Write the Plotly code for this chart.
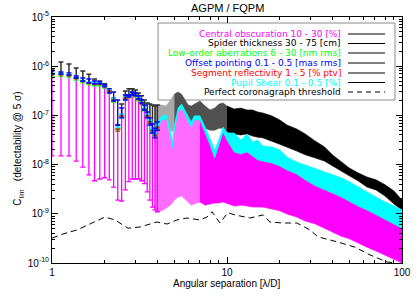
import plotly.graph_objects as go

# ---------------- data ----------------
# individual error bars (x <= 4, step 0.125 lambda/D)
bar_x = [1, 1.125, 1.25, 1.375, 1.5, 1.625, 1.75, 1.875, 2, 2.125, 2.25, 2.375, 2.5,
         2.625, 2.75, 2.875, 3, 3.125, 3.25, 3.375, 3.5, 3.625, 3.75, 3.875, 4]
nominal = [6.9e-7, 6.9e-7, 6.6e-7, 5.75e-7, 5.0e-7, 4.6e-7, 4.4e-7, 4.4e-7, 4.0e-7, 3.15e-7,
           2.06e-7, 5.3e-8, 9.8e-8, 2.26e-7, 2.5e-7, 2.7e-7, 2.6e-7, 2.15e-7, 1.79e-7, 1.35e-7,
           9.8e-8, 7.4e-8, 5.0e-8, 4.0e-8, 5.8e-8]
obsc_low = [1.5e-8, 1.5e-8, 1.5e-8, 1.18e-8, 8.9e-9, 6.2e-9, 4.7e-9, 5.1e-9, 5.4e-9, 4.9e-9,
            3.5e-9, 1.9e-9, 1.82e-9, 3.05e-9, 4.5e-9, 5.1e-9, 5.1e-9, 5.1e-9, 4.7e-9, 4.1e-9,
            2.8e-9, 1.9e-9, 1.37e-9, 1.2e-9, 1.1e-9]
spider_high = [8.4e-7, 1.22e-6, 1.11e-6, 9.2e-7, 8.0e-7, 6.9e-7, 5.5e-7, 5.0e-7, 4.4e-7, 3.3e-7,
               2.26e-7, 6.4e-8, 1.7e-7, 3.15e-7, 3.5e-7, 3.5e-7, 3.3e-7, 2.85e-7, 2.5e-7, 2.06e-7,
               1.79e-7, 1.7e-7, 1.63e-7, 1.55e-7, 1.63e-7]
offset_high = [8.0e-7, 7.6e-7, 7.3e-7, 6.3e-7, 5.75e-7, 5.5e-7, 5.0e-7, 4.8e-7, 4.2e-7, 3.5e-7,
               3.0e-7, 2.06e-7, 1.41e-7, 2.6e-7, 2.6e-7, 3.0e-7, 2.85e-7, 2.5e-7, 2.06e-7, 1.63e-7,
               1.17e-7, 8.9e-8, 6.7e-8, 5.5e-8, 7.4e-8]
offset_low = [6.9e-7, 6.9e-7, 6.6e-7, 5.75e-7, 5.0e-7, 4.6e-7, 4.4e-7, 4.4e-7, 3.8e-7, 2.85e-7,
              1.96e-7, 6.4e-8, 8.9e-8, 2.06e-7, 2.37e-7, 2.6e-7, 2.5e-7, 2.15e-7, 1.79e-7, 1.29e-7,
              8.9e-8, 6.4e-8, 4.4e-8, 3.5e-8, 5.0e-8]
shear_high = [7.3e-7, 7.3e-7, 6.9e-7, 6.0e-7, 5.2e-7, 4.8e-7, 4.6e-7, 4.6e-7, 4.2e-7, 3.3e-7,
              2.26e-7, 5.8e-8, 1.07e-7, 2.37e-7, 2.6e-7, 2.85e-7, 2.7e-7, 2.26e-7, 1.87e-7, 1.41e-7,
              1.07e-7, 8.1e-8, 5.5e-8, 4.4e-8, 6.4e-8]
loworder_low = [6.3e-7, 6.3e-7, 6.0e-7, 5.2e-7, 4.6e-7, 4.2e-7, 4.0e-7, 4.0e-7, 3.6e-7, 2.85e-7,
                1.87e-7, 4.8e-8, 8.9e-8, 2.06e-7, 2.26e-7, 2.5e-7, 2.37e-7, 1.96e-7, 1.63e-7, 1.23e-7,
                8.9e-8, 6.7e-8, 4.6e-8, 3.6e-8, 5.3e-8]
segment_low = [6.6e-7, 6.6e-7, 6.3e-7, 5.5e-7, 4.8e-7, 4.4e-7, 4.2e-7, 4.2e-7, 3.8e-7, 3.0e-7,
               1.96e-7, 4.8e-8, 9.3e-8, 2.15e-7, 2.37e-7, 2.6e-7, 2.5e-7, 2.06e-7, 1.7e-7, 1.29e-7,
               9.3e-8, 7.0e-8, 4.8e-8, 3.8e-8, 5.5e-8]

# dense part (x >= 3.875): envelopes of the error bars
band_x = [3.875, 4, 4.25, 4.5, 4.75, 4.875, 5, 5.25, 5.5, 5.75, 6, 6.25, 6.5, 7, 7.5, 8, 8.5, 9,
          9.5, 10, 11, 12, 13, 14, 15, 16, 18, 20, 22, 25, 28, 32, 36, 40, 45, 50, 56, 63, 71,
          80, 90, 100]
band_nominal = [4.0e-8, 5.8e-8, 8.1e-8, 8.5e-8, 4.0e-8, 2.2e-8, 5.0e-8, 1.17e-7, 1.41e-7, 1.07e-7,
                7.4e-8, 5.8e-8, 8.1e-8, 8.1e-8, 4.6e-8, 2.5e-8, 1.36e-8, 2.5e-8, 4.6e-8, 3.16e-8,
                1.8e-8, 1.64e-8, 1.8e-8, 1.5e-8, 1.24e-8, 1.18e-8, 1.08e-8, 9.4e-9, 7.8e-9, 6.45e-9,
                4.9e-9, 3.7e-9, 3.05e-9, 2.65e-9, 2.2e-9, 1.82e-9, 1.44e-9, 1.2e-9, 9.9e-10, 7.8e-10,
                6.2e-10, 5.1e-10]
band_shear_high = [4.8e-8, 7.0e-8, 9.8e-8, 1.02e-7, 5.0e-8, 2.9e-8, 6.4e-8, 1.41e-7, 1.7e-7, 1.29e-7,
                   9.3e-8, 7.4e-8, 9.8e-8, 9.8e-8, 5.8e-8, 3.3e-8, 2.0e-8, 3.3e-8, 5.8e-8, 4.4e-8,
                   4.4e-8, 3.16e-8, 4.2e-8, 2.9e-8, 3.16e-8, 2.4e-8, 2.3e-8, 2.0e-8, 1.43e-8, 1.13e-8,
                   9.8e-9, 8.5e-9, 7.1e-9, 6.2e-9, 5.4e-9, 4.5e-9, 3.5e-9, 2.8e-9, 2.2e-9, 1.74e-9,
                   1.44e-9, 1.2e-9]
band_obsc_low = [1.2e-9, 1.1e-9, 1.15e-9, 1.31e-9, 1.5e-9, 1.66e-9, 1.9e-9, 2.2e-9, 2.3e-9, 2.0e-9,
                 1.74e-9, 1.5e-9, 1.58e-9, 1.74e-9, 1.5e-9, 1.58e-9, 1.66e-9, 1.66e-9, 1.74e-9, 1.66e-9,
                 1.44e-9, 1.5e-9, 1.44e-9, 1.37e-9, 1.37e-9, 1.37e-9, 1.25e-9, 1.15e-9, 9.9e-10, 8.6e-10,
                 7.1e-10, 6.2e-10, 5.1e-10, 4.3e-10, 3.5e-10, 3.1e-10, 2.6e-10, 2.1e-10, 1.75e-10, 1.46e-10,
                 1.2e-10, 1.0e-10]
band_spider_high = [1.55e-7, 1.63e-7, 1.63e-7, 1.55e-7, 2.06e-7, 2.37e-7, 2.7e-7, 3.0e-7, 2.7e-7, 2.06e-7,
                    1.63e-7, 1.55e-7, 1.7e-7, 1.96e-7, 1.55e-7, 1.29e-7, 1.41e-7, 1.7e-7, 1.79e-7, 1.55e-7,
                    1.35e-7, 1.41e-7, 1.29e-7, 1.29e-7, 1.17e-7, 1.12e-7, 9.8e-8, 8.1e-8, 6.4e-8, 5.3e-8,
                    4.2e-8, 3.0e-8, 2.3e-8, 1.58e-8, 1.13e-8, 8.5e-9, 6.8e-9, 5.6e-9, 4.9e-9, 3.9e-9,
                    2.9e-9, 1.9e-9]
band_spider_low = [4.6e-8, 5.8e-8, 8.1e-8, 8.5e-8, 5.0e-8, 4.6e-8, 5.5e-8, 1.17e-7, 1.41e-7, 1.07e-7,
                   7.4e-8, 6.1e-8, 8.1e-8, 8.1e-8, 5.5e-8, 5.0e-8, 5.0e-8, 5.5e-8, 5.5e-8, 4.6e-8,
                   4.2e-8, 4.0e-8, 4.2e-8, 3.8e-8, 3.6e-8, 3.5e-8, 3.0e-8, 2.6e-8, 2.3e-8, 1.89e-8,
                   1.58e-8, 1.36e-8, 1.18e-8, 9.4e-9, 7.4e-9, 5.9e-9, 4.7e-9, 3.5e-9, 3.05e-9, 2.3e-9,
                   1.58e-9, 1.2e-9]

# perfect coronagraph threshold
thr_x = [1.0, 1.156, 1.39, 1.65, 2.01, 2.29, 2.72, 3.18, 3.98, 4.54, 5.18, 5.91, 7.01, 7.69, 8.21,
         9.12, 10.1, 11.1, 13.5, 16.1, 17.6, 20.9, 25.1, 29.8, 33.1, 42.5, 53.9, 65.6, 82.1, 91.2, 100]
thr_y = [3.2e-10, 3.9e-10, 4.7e-10, 6.2e-10, 8.6e-10, 7.5e-10, 5.1e-10, 5.4e-10, 6.8e-10, 6.2e-10,
         7.5e-10, 8.2e-10, 7.5e-10, 8.6e-10, 1.1e-9, 6.5e-10, 1.05e-9, 9.5e-10, 8.2e-10, 9.5e-10,
         6.8e-10, 6.5e-10, 6.5e-10, 4.7e-10, 3.4e-10, 2.7e-10, 2.1e-10, 1.46e-10, 1.05e-10, 1.0e-10,
         9.1e-11]

legend_labels = ["Central obscuration 10 - 30 [%]", "Spider thickness 30 - 75 [cm]",
                 "Low-order aberrations 6 - 30 [nm rms]", "Offset pointing 0.1 - 0.5 [mas rms]",
                 "Segment reflectivity 1 - 5 [% ptv]", "Pupil Shear 0.1 - 0.5 [%]",
                 "Perfect coronagraph threshold"]
legend_colors = ["#ff00ff", "#000000", "#00ff00", "#0000ff", "#ff0000", "#00ffff", "#000000"]

MAG, BLK, GRN, BLU, RED, CYN = legend_colors[:6]

fig = go.Figure()


def band(lo, hi, color, i0, i1):
    xs = band_x[i0:i1]
    fig.add_trace(go.Scatter(
        x=xs + xs[::-1], y=hi[i0:i1] + lo[i0:i1][::-1],
        mode="lines", fill="toself", fillcolor=color,
        line=dict(width=0.6, color=color), hoverinfo="skip"))


def bars(lo, hi, color, thick=1.0, capw=2.5):
    fig.add_trace(go.Scatter(
        x=bar_x, y=lo, mode="markers",
        marker=dict(size=2, color="rgba(0,0,0,0)"),
        error_y=dict(type="data", symmetric=False,
                     array=[h - l for h, l in zip(hi, lo)],
                     arrayminus=[0] * len(lo),
                     color=color, thickness=thick, width=capw),
        hoverinfo="skip"))


# dense region bands
band(band_spider_low, band_spider_high, "#a8a8a8", 0, 7)
band(band_spider_low, band_spider_high, "#505050", 6, 20)
band(band_spider_low, band_spider_high, BLK, 19, 42)
band(band_obsc_low, band_nominal, "#ff6cff", 0, 14)
band(band_obsc_low, band_nominal, MAG, 13, 42)
band(band_nominal, band_shear_high, CYN, 0, 42)

# individual bars
bars(obsc_low, nominal, MAG, 1.3, 2.5)
bars(nominal, spider_high, "#303030", 1.5, 2.5)
bars(nominal, shear_high, CYN, 1.5, 2.5)
bars(loworder_low, nominal, GRN, 1.2, 2.5)
bars(segment_low, nominal, RED, 1.0, 2.0)
bars(offset_low, offset_high, BLU, 1.4, 2.5)

# threshold
fig.add_trace(go.Scatter(x=thr_x, y=thr_y, mode="lines",
                         line=dict(color="black", width=1, dash="6px,4px"), hoverinfo="skip"))

FONT = "Liberation Sans, Arial, sans-serif"
LFONT = "DejaVu Sans, sans-serif"

# manual legend (text right-aligned, sample line on the right)
row_y = [0.9309, 0.8923, 0.8537, 0.813, 0.7724, 0.7337, 0.6951]
shapes = [dict(type="rect", xref="paper", yref="paper", x0=0.303, x1=0.98, y0=0.6626, y1=0.9756,
               line=dict(color="#8c8c8c", width=1), layer="below")]
annotations = []
for i, (lab, col) in enumerate(zip(legend_labels, legend_colors)):
    annotations.append(dict(xref="paper", yref="paper", x=0.8286, y=row_y[i], text=lab,
                            showarrow=False, xanchor="right", yanchor="middle", borderpad=0,
                            font=dict(family=LFONT, size=9, color=col)))
    shapes.append(dict(type="line", xref="paper", yref="paper", x0=0.8457, x1=0.9514,
                       y0=row_y[i], y1=row_y[i],
                       line=dict(color="black", width=1.2, dash="5px,4px" if i == 6 else "solid")))

annotations.append(dict(xref="paper", yref="paper", x=0.5, y=1.0, yshift=9, text="AGPM / FQPM",
                        showarrow=False, xanchor="center", yanchor="middle", borderpad=0,
                        font=dict(family=FONT, size=11, color="black")))
annotations.append(dict(xref="paper", yref="paper", x=0.5, y=0, yshift=-20,
                        text="Angular separation [λ/D]", showarrow=False, borderpad=0,
                        xanchor="center", yanchor="middle", font=dict(family=FONT, size=10, color="black")))
annotations.append(dict(xref="paper", yref="paper", x=-0.097, y=0.465, textangle=-90,
                        text="C<sub>lim</sub>   (detectability @ 5 σ)", showarrow=False,
                        xanchor="center", yanchor="middle", font=dict(family=FONT, size=10, color="black")))

axis_common = dict(type="log", showgrid=False, zeroline=False, showline=True, linecolor="black",
                   linewidth=1, mirror="ticks", ticks="inside", ticklen=6, tickcolor="black",
                   automargin=False,
                   tickfont=dict(family=FONT, size=10, color="black"),
                   minor=dict(ticks="inside", ticklen=3, tickcolor="black", dtick="D1", showgrid=False))

fig.update_layout(
    width=417, height=298, margin=dict(l=52, r=15, t=17, b=35),
    paper_bgcolor="white", plot_bgcolor="white", showlegend=False,
    xaxis=dict(range=[0, 2], tickvals=[1, 10, 100], ticktext=["1", "10", "100"], **axis_common),
    yaxis=dict(range=[-10, -5], tickvals=[1e-10, 1e-9, 1e-8, 1e-7, 1e-6, 1e-5],
               ticktext=["10<sup>-10</sup>", "10<sup>-9</sup>", "10<sup>-8</sup>", "10<sup>-7</sup>",
                         "10<sup>-6</sup>", "10<sup>-5</sup>"], **axis_common),
    shapes=shapes, annotations=annotations,
)

fig.write_html("out.html", config={"displayModeBar": False},
               post_script="document.body.style.margin='0';document.body.style.overflow='hidden';")
